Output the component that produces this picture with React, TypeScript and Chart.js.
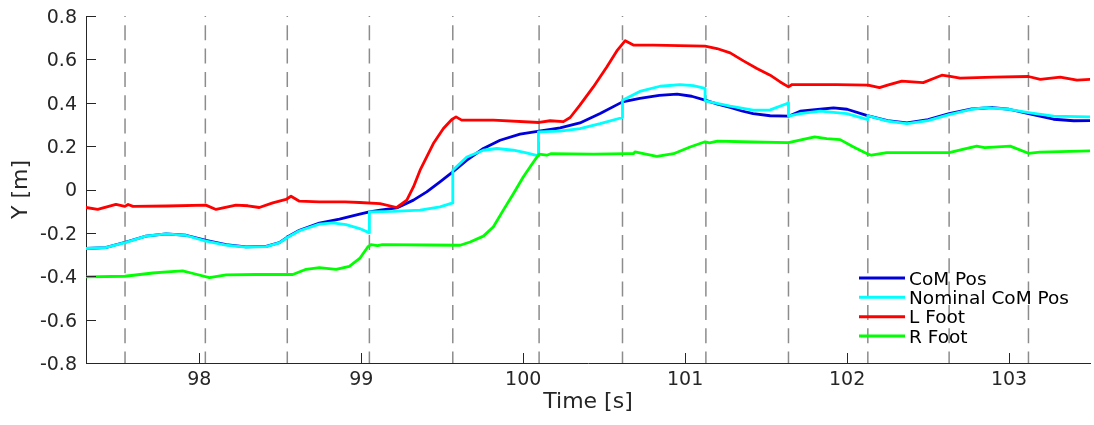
import React, { useEffect, useRef } from "react";
import { Chart, registerables } from "chart.js";

Chart.register(...registerables);

// ---- Data (time [s], Y [m]) ----
const comT = [97.3, 97.42, 97.547, 97.67, 97.794, 97.918, 98.041, 98.165, 98.288, 98.412, 98.494, 98.546, 98.618, 98.741, 98.865, 98.99, 99.05, 99.116, 99.219, 99.322, 99.404, 99.486, 99.565, 99.652, 99.754, 99.857, 99.98, 100.098, 100.228, 100.35, 100.475, 100.613, 100.72, 100.84, 100.95, 101.04, 101.123, 101.2, 101.278, 101.35, 101.42, 101.525, 101.638, 101.71, 101.834, 101.916, 102.0, 102.12, 102.25, 102.37, 102.5, 102.63, 102.77, 102.9, 103.0, 103.12, 103.275, 103.4, 103.5];
const comY = [-0.272, -0.268, -0.242, -0.215, -0.205, -0.211, -0.234, -0.254, -0.265, -0.262, -0.245, -0.218, -0.188, -0.155, -0.137, -0.114, -0.103, -0.095, -0.085, -0.049, -0.011, 0.035, 0.081, 0.135, 0.189, 0.227, 0.255, 0.269, 0.284, 0.307, 0.35, 0.404, 0.42, 0.434, 0.44, 0.43, 0.412, 0.394, 0.378, 0.362, 0.35, 0.34, 0.338, 0.361, 0.37, 0.376, 0.37, 0.342, 0.318, 0.307, 0.322, 0.35, 0.372, 0.378, 0.37, 0.35, 0.324, 0.317, 0.318];

const nomT = [97.3, 97.42, 97.547, 97.67, 97.794, 97.918, 98.041, 98.165, 98.288, 98.412, 98.494, 98.546, 98.618, 98.741, 98.824, 98.906, 98.99, 99.05, 99.05, 99.197, 99.363, 99.486, 99.565, 99.565, 99.652, 99.754, 99.837, 99.94, 100.02, 100.094, 100.094, 100.228, 100.35, 100.475, 100.613, 100.613, 100.72, 100.845, 100.968, 101.05, 101.123, 101.123, 101.278, 101.42, 101.525, 101.638, 101.638, 101.71, 101.834, 101.999, 102.128, 102.128, 102.25, 102.37, 102.5, 102.63, 102.77, 102.86, 103.0, 103.12, 103.275, 103.5];
const nomY = [-0.272, -0.268, -0.244, -0.215, -0.205, -0.212, -0.238, -0.256, -0.266, -0.263, -0.246, -0.22, -0.19, -0.16, -0.154, -0.162, -0.18, -0.2, -0.103, -0.101, -0.095, -0.08, -0.062, 0.089, 0.15, 0.181, 0.189, 0.181, 0.169, 0.155, 0.266, 0.269, 0.281, 0.304, 0.332, 0.412, 0.452, 0.476, 0.484, 0.479, 0.466, 0.409, 0.384, 0.366, 0.367, 0.399, 0.338, 0.35, 0.361, 0.35, 0.322, 0.34, 0.315, 0.304, 0.318, 0.345, 0.37, 0.378, 0.37, 0.355, 0.338, 0.335];

const lFootT = [97.3, 97.372, 97.485, 97.54, 97.56, 97.59, 97.8, 98.04, 98.103, 98.226, 98.3, 98.37, 98.453, 98.535, 98.566, 98.618, 98.741, 98.9, 98.99, 99.116, 99.219, 99.281, 99.322, 99.363, 99.404, 99.445, 99.507, 99.559, 99.585, 99.62, 99.816, 100.098, 100.166, 100.248, 100.29, 100.35, 100.433, 100.516, 100.578, 100.63, 100.68, 100.804, 101.123, 101.196, 101.278, 101.36, 101.443, 101.525, 101.587, 101.638, 101.66, 101.936, 102.13, 102.2, 102.25, 102.338, 102.47, 102.53, 102.585, 102.637, 102.698, 102.904, 103.12, 103.193, 103.316, 103.42, 103.5];
const lFootY = [-0.083, -0.092, -0.069, -0.078, -0.069, -0.078, -0.076, -0.072, -0.092, -0.072, -0.075, -0.083, -0.062, -0.046, -0.031, -0.054, -0.057, -0.057, -0.06, -0.065, -0.083, -0.049, 0.012, 0.089, 0.15, 0.212, 0.281, 0.323, 0.335, 0.32, 0.32, 0.309, 0.317, 0.313, 0.332, 0.389, 0.473, 0.565, 0.639, 0.686, 0.666, 0.666, 0.661, 0.65, 0.63, 0.593, 0.558, 0.527, 0.496, 0.473, 0.484, 0.484, 0.481, 0.47, 0.481, 0.5, 0.493, 0.511, 0.527, 0.522, 0.514, 0.518, 0.521, 0.508, 0.518, 0.504, 0.508];

const rFootT = [97.3, 97.54, 97.712, 97.8, 97.897, 97.95, 98.062, 98.165, 98.35, 98.577, 98.659, 98.741, 98.844, 98.926, 98.99, 99.04, 99.06, 99.1, 99.13, 99.404, 99.61, 99.672, 99.754, 99.816, 99.877, 99.94, 100.0, 100.063, 100.098, 100.145, 100.17, 100.433, 100.64, 100.68, 100.69, 100.825, 100.928, 101.03, 101.123, 101.15, 101.2, 101.42, 101.638, 101.75, 101.8, 101.874, 101.957, 102.04, 102.13, 102.15, 102.245, 102.45, 102.63, 102.72, 102.8, 102.85, 103.007, 103.12, 103.19, 103.5];
const rFootY = [-0.403, -0.4, -0.385, -0.38, -0.375, -0.385, -0.406, -0.394, -0.392, -0.392, -0.368, -0.36, -0.368, -0.354, -0.318, -0.265, -0.254, -0.259, -0.254, -0.256, -0.257, -0.242, -0.215, -0.172, -0.095, -0.018, 0.058, 0.127, 0.163, 0.158, 0.165, 0.163, 0.165, 0.165, 0.173, 0.153, 0.165, 0.196, 0.22, 0.215, 0.223, 0.219, 0.216, 0.235, 0.243, 0.235, 0.23, 0.196, 0.163, 0.158, 0.17, 0.17, 0.17, 0.186, 0.2, 0.193, 0.2, 0.167, 0.172, 0.178];

// step event times (vertical dashed markers)
const stepTimes = [97.541, 98.037, 98.543, 99.05, 99.565, 100.098, 100.613, 101.128, 101.638, 102.128, 102.63, 103.12];

const seriesLabels = ["CoM Pos", "Nominal CoM Pos", "L Foot", "R Foot"];
const seriesColors = ["#0000dd", "#00ffff", "#ff0000", "#00ff00"];

const xTickValues = [98, 99, 100, 101, 102, 103];
const xTickLabels = ["98", "99", "100", "101", "102", "103"];
const yTickValues = [-0.8, -0.6, -0.4, -0.2, 0, 0.2, 0.4, 0.6, 0.8];
const yTickLabels = ["-0.8", "-0.6", "-0.4", "-0.2", "0", "0.2", "0.4", "0.6", "0.8"];

const X_MIN = 97.3;
const X_MAX = 103.5;
const Y_MIN = -0.8;
const Y_MAX = 0.8;

const AXIS_COLOR = "#262626";
const FONT = "'DejaVu Sans', 'Liberation Sans', sans-serif";

const zip = (t: number[], y: number[]) => t.map((v, i) => ({ x: v, y: y[i] }));

const overlayPlugin = {
  id: "overlay",
  afterDraw(chart: any) {
    const ctx = chart.ctx as CanvasRenderingContext2D;
    const { left, bottom } = chart.chartArea;
    const xs = chart.scales.x;
    const ys = chart.scales.y;
    const tickLen = 10;
    ctx.save();
    ctx.strokeStyle = AXIS_COLOR;
    ctx.lineWidth = 1;
    ctx.beginPath();
    yTickValues.forEach((v) => {
      const py = Math.round(ys.getPixelForValue(v)) + 0.5;
      ctx.moveTo(left, py);
      ctx.lineTo(left + tickLen, py);
    });
    xTickValues.forEach((v) => {
      const px = Math.round(xs.getPixelForValue(v)) + 0.5;
      ctx.moveTo(px, bottom);
      ctx.lineTo(px, bottom - tickLen);
    });
    ctx.stroke();

    // legend (inside axes, lower right)
    const lx0 = 859;
    const lx1 = 905;
    const tx = 909;
    const y0 = 278;
    const dy = 19.33;
    ctx.font = `18.5px ${FONT}`;
    ctx.textBaseline = "alphabetic";
    ctx.textAlign = "left";
    seriesLabels.forEach((lab, i) => {
      const ds = chart.data.datasets.find((d: any) => d.label === lab);
      const cy = y0 + i * dy;
      ctx.strokeStyle = ds ? ds.borderColor : seriesColors[i];
      ctx.lineWidth = 3;
      ctx.beginPath();
      ctx.moveTo(lx0, cy);
      ctx.lineTo(lx1, cy);
      ctx.stroke();
      ctx.fillStyle = "#000000";
      ctx.fillText(lab, tx, cy + 6.8);
    });
    ctx.restore();
  },
};

export default function App() {
  const canvasRef = useRef<HTMLCanvasElement | null>(null);

  useEffect(() => {
    if (!canvasRef.current) return;
    const series = [
      { t: comT, y: comY },
      { t: nomT, y: nomY },
      { t: lFootT, y: lFootY },
      { t: rFootT, y: rFootY },
    ];
    const drawOrder = [5, 4, 3, 2];
    const dataDatasets = series.map((s, i) => ({
      label: seriesLabels[i],
      data: zip(s.t, s.y),
      borderColor: seriesColors[i],
      backgroundColor: seriesColors[i],
      borderWidth: 2.8,
      borderJoinStyle: "round" as const,
      borderCapStyle: "round" as const,
      pointRadius: 0,
      tension: 0,
      fill: false,
      order: drawOrder[i],
    }));

    const dashDatasets = stepTimes.map((t) => ({
      label: "",
      data: [
        { x: t, y: Y_MAX },
        { x: t, y: Y_MIN },
      ],
      borderColor: "#8c8c8c",
      borderWidth: 1.5,
      borderDash: [15, 8.3],
      borderDashOffset: 14,
      pointRadius: 0,
      fill: false,
      order: 10,
    }));

    const chart = new Chart(canvasRef.current, {
      type: "line",
      data: { datasets: [...dataDatasets, ...dashDatasets] as any },
      options: {
        animation: false,
        responsive: false,
        devicePixelRatio: 1,
        layout: { padding: { left: 0, right: 4, top: 16, bottom: 0 } },
        plugins: {
          legend: { display: false },
          tooltip: { enabled: false },
        },
        scales: {
          x: {
            type: "linear",
            min: X_MIN,
            max: X_MAX,
            afterBuildTicks: (scale: any) => {
              scale.ticks = xTickValues.map((v) => ({ value: v }));
            },
            afterFit: (scale: any) => {
              scale.height = 62;
              scale.paddingLeft = 0;
              scale.paddingRight = 0;
            },
            ticks: {
              autoSkip: false,
              maxRotation: 0,
              padding: 6,
              color: AXIS_COLOR,
              font: { family: FONT, size: 19 },
              callback: (_v: any, i: number) => xTickLabels[i],
            },
            grid: { display: false, drawTicks: false, drawOnChartArea: false },
            border: { display: true, color: AXIS_COLOR, width: 1 },
            title: {
              display: true,
              text: "Time [s]",
              color: AXIS_COLOR,
              font: { family: FONT, size: 22 },
              padding: { top: 0, bottom: 10 },
            },
          },
          y: {
            type: "linear",
            min: Y_MIN,
            max: Y_MAX,
            afterBuildTicks: (scale: any) => {
              scale.ticks = yTickValues.map((v) => ({ value: v }));
            },
            afterFit: (scale: any) => {
              scale.width = 86;
              scale.paddingTop = 0;
              scale.paddingBottom = 0;
            },
            ticks: {
              autoSkip: false,
              padding: 9,
              labelOffset: 2,
              color: AXIS_COLOR,
              font: { family: FONT, size: 19 },
              callback: (_v: any, i: number) => yTickLabels[i],
            },
            grid: { display: false, drawTicks: false, drawOnChartArea: false },
            border: { display: true, color: AXIS_COLOR, width: 1 },
            title: {
              display: true,
              text: "Y [m]",
              color: AXIS_COLOR,
              font: { family: FONT, size: 22 },
              padding: { top: 8, bottom: 0 },
            },
          },
        },
      },
      plugins: [overlayPlugin],
    });
    return () => chart.destroy();
  }, []);

  return (
    <div style={{ position: "absolute", left: 0, top: 0, width: 1094, height: 425, background: "#ffffff" }}>
      <canvas ref={canvasRef} width={1094} height={425} style={{ display: "block", width: 1094, height: 425 }} />
    </div>
  );
}
